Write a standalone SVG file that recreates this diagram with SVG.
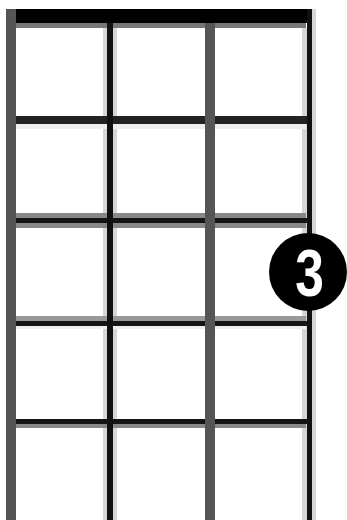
<svg xmlns="http://www.w3.org/2000/svg" width="347" height="520" viewBox="0 0 347 520">
  <style>
    .halo { fill: #d6d6d6; }
    .core { fill: #111111; }
    .gstr { fill: #555555; }
    .dark { fill: #141414; }
    .grey { fill: #888888; }
    .light { fill: #efefef; }
    .num { font-family: "Liberation Sans", Arial, sans-serif; font-weight: bold; font-size: 66px; fill: #ffffff; }
  </style>
  <rect width="347" height="520" fill="#ffffff"/>
  <g id="strings">
    <rect class="gstr" x="6" y="9" width="10" height="511"/>
    <rect class="halo" x="103" y="28" width="14" height="492"/>
    <rect class="gstr" x="205" y="28" width="10" height="492"/>
    <rect class="halo" x="302" y="28" width="14" height="492"/>
    <rect class="halo" x="311" y="9" width="5" height="20"/>
  </g>
  <g id="frets">
    <rect class="light" x="16" y="124" width="290" height="5"/>
    <rect x="11" y="116" width="300" height="8" fill="#222222"/>
    <rect class="grey" x="16" y="213" width="290" height="15"/>
    <rect class="dark" x="11" y="218" width="300" height="5"/>
    <rect x="16" y="316" width="290" height="5" fill="#999999"/>
    <rect class="light" x="16" y="326" width="290" height="3"/>
    <rect class="dark" x="11" y="321" width="300" height="5"/>
    <rect class="grey" x="16" y="424" width="290" height="4"/>
    <rect class="dark" x="11" y="419" width="300" height="5"/>
  </g>
  <g id="nut">
    <rect x="16" y="23" width="290" height="5" fill="#777777"/>
    <rect x="11" y="9" width="301" height="14" fill="#000000"/>
  </g>
  <g id="string-cores">
    <rect class="gstr" x="6" y="9" width="10" height="511"/>
    <rect class="core" x="107" y="23" width="6" height="497"/>
    <rect class="gstr" x="205" y="23" width="10" height="497"/>
    <rect class="core" x="307" y="9" width="5" height="511"/>
  </g>
  <g id="finger-3">
    <circle cx="308" cy="272" r="39" fill="#000000"/>
    <text class="num" x="0" y="0" text-anchor="middle" transform="translate(309.5 296) scale(0.78 1)">3</text>
  </g>
</svg>
